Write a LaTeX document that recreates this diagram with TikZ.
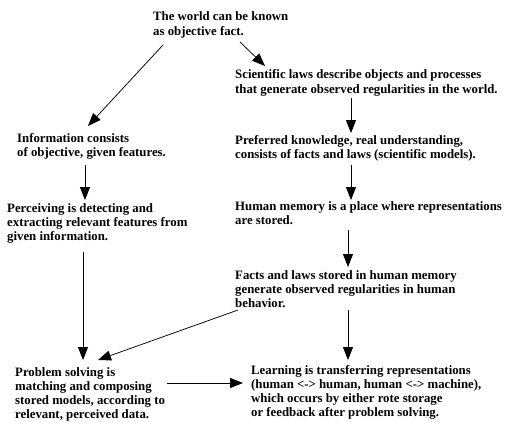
\documentclass[tikz,border=0pt]{standalone}
\usepackage{fontspec}
\setmainfont{Liberation Serif}
\usetikzlibrary{arrows.meta,calc}
\tikzset{
  txt/.style={anchor=north west,inner sep=0pt,align=left,
    font={\bfseries\fontsize{12.8}{14}\selectfont}},
  wide/.style={font={\bfseries\fontsize{12.8}{15}\selectfont}},
  arr/.style={-{Triangle[length=13pt,width=10pt]},line width=0.75pt,black}
}
\begin{document}
\begin{tikzpicture}[x=1pt,y=-1pt]
\useasboundingbox[fill=white] (0,0) rectangle (520,421);
\node[txt,wide] (n1) at (153,11.5) {The world can be known\\as objective fact.};
\node[txt,wide] (n2) at (235,69.5) {Scientific laws describe objects and processes\\that generate observed regularities in the world.};
\node[txt] (n3) at (17,133.5) {Information consists\\of objective, given features.};
\node[txt] (n4) at (235,135.5) {Preferred knowledge, real understanding,\\consists of facts and laws (scientific models).};
\node[txt] (n5) at (7,203.5) {Perceiving is detecting and\\extracting relevant features from\\given information.};
\node[txt] (n6) at (235,201.5) {Human memory is a place where representations\\are stored.};
\node[txt] (n7) at (235,270.5) {Facts and laws stored in human memory\\generate observed regularities in human\\behavior.};
\node[txt] (n8) at (15,367.5) {Problem solving is\\matching and composing\\stored models, according to\\relevant, perceived data.};
\node[txt] (n9) at (251,365.5) {Learning is transferring representations\\(human <-> human, human <-> machine),\\which occurs by either rote storage\\or feedback after problem solving.};

\draw[arr] ($(n1.north west)+(10,33.5)$) -- ($(n3.north west)+(71,-7.5)$);
\draw[arr] ($(n1.north west)+(87,30.5)$) -- ($(n2.north west)+(30,-3.5)$);
\draw[arr] ($(n3.north west)+(68,31.5)$) -- ($(n5.north west)+(78,-3.5)$);
\draw[arr] ($(n2.north west)+(116,28.5)$) -- ($(n4.north west)+(116,-2.5)$);
\draw[arr] ($(n4.north west)+(116,29.5)$) -- ($(n6.north west)+(116,-1.5)$);
\draw[arr] ($(n6.north west)+(113,28.5)$) -- ($(n7.north west)+(113,-3.5)$);
\draw[arr] ($(n5.north west)+(76,48.5)$) -- ($(n8.north west)+(68,-7.5)$);
\draw[arr] ($(n7.north west)+(3,39.5)$) -- ($(n8.north west)+(83,-7.5)$);
\draw[arr] ($(n7.north west)+(113,39.5)$) -- ($(n9.north west)+(97,-5.5)$);
\draw[arr] ($(n8.north west)+(152,15.5)$) -- ($(n9.north west)+(-8,17.5)$);
\end{tikzpicture}
\end{document}
